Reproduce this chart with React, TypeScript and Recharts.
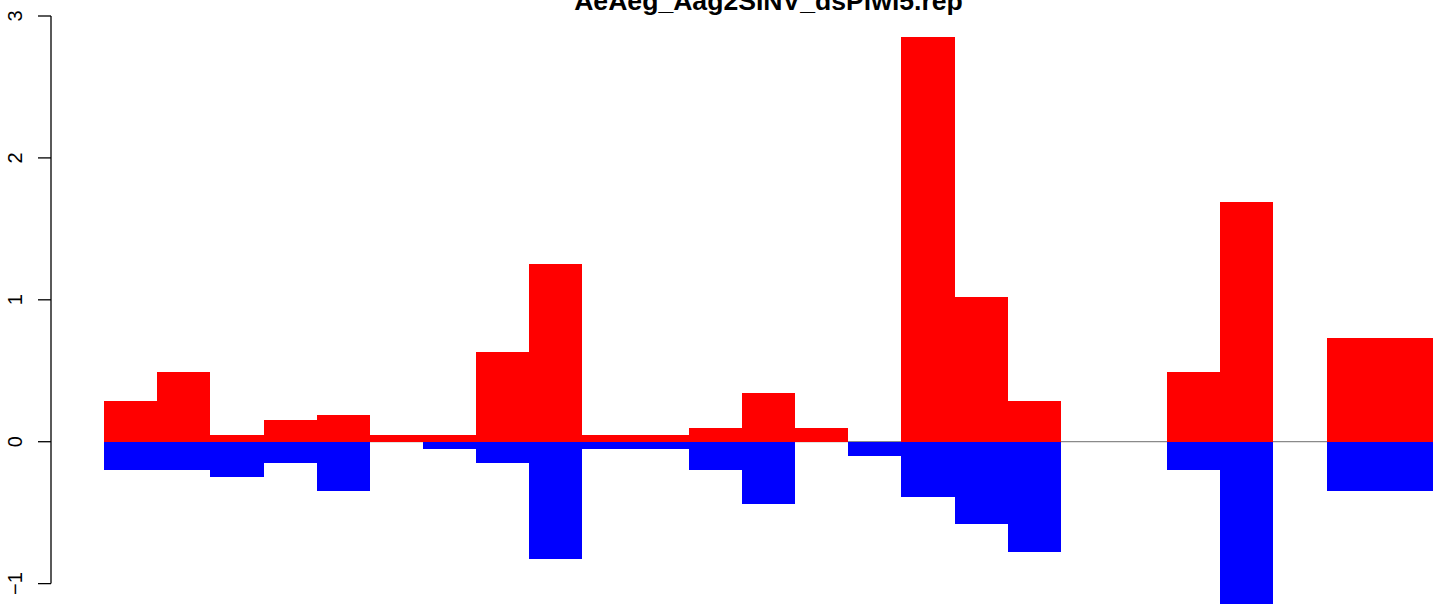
import { Bar, BarChart, ReferenceLine, XAxis, YAxis } from "recharts";

// one bin per bar, left to right
const bins = [
  1, 2, 3, 4, 5, 6, 7, 8, 9, 10, 11, 12, 13, 14, 15, 16, 17, 18, 19, 20, 21, 22,
  23, 24, 25,
];
const sense = [
  0.29, 0.49, 0.05, 0.15, 0.19, 0.05, 0.05, 0.63, 1.25, 0.05, 0.05, 0.1, 0.34,
  0.1, 0, 2.85, 1.02, 0.29, 0, 0, 0.49, 1.69, 0, 0.73, 0.73,
];
const antisense = [
  -0.2, -0.2, -0.25, -0.15, -0.35, 0, -0.05, -0.15, -0.83, -0.05, -0.05, -0.2,
  -0.44, 0, -0.1, -0.39, -0.58, -0.78, 0, 0, -0.2, -1.16, 0, -0.35, -0.35,
];
const yTicks = [-1, 0, 1, 2, 3];
const title = "AeAeg_Aag2SINV_dsPiwi5.rep";

const data = bins.map((b, i) => ({
  pos: b - 0.5,
  sense: sense[i],
  antisense: antisense[i],
}));

const CHART_W = 1490;
const CHART_H = 612;
const AXIS_W = 51;
const RIGHT = 4;
const X_DOMAIN: [number, number] = [-1, 26];
const unit = (CHART_W - AXIS_W - RIGHT) / (X_DOMAIN[1] - X_DOMAIN[0]);
// a hair under the band so recharts doesn't shrink bars to 90%
const barW = unit - 0.01;

const font = "'Liberation Sans', Arial, Helvetica, sans-serif";

function YTick(props: any) {
  const { x, y, payload } = props;
  const v = Number(payload.value);
  const label = v < 0 ? `\u2212${Math.abs(v)}` : String(v);
  return (
    <text
      x={x}
      y={y}
      transform={`rotate(-90, ${x}, ${y})`}
      textAnchor="middle"
      fontSize={20}
      fontFamily={font}
      fill="#000"
    >
      {label}
    </text>
  );
}

export default function App() {
  return (
    <div
      style={{
        position: "absolute",
        left: 0,
        top: 0,
        width: 1444,
        height: 604,
        overflow: "hidden",
        background: "#fff",
      }}
    >
      <style>{`.recharts-rectangle { shape-rendering: crispEdges; }`}</style>
      <BarChart
        width={CHART_W}
        height={CHART_H}
        data={data}
        stackOffset="sign"
        barCategoryGap="0%"
        barGap={0}
        margin={{ top: 16, right: RIGHT, bottom: 0, left: 0 }}
      >
        <XAxis
          dataKey="pos"
          type="number"
          domain={X_DOMAIN}
          allowDataOverflow
          hide
        />
        <YAxis
          type="number"
          domain={[-1.2, 3]}
          ticks={yTicks}
          width={AXIS_W}
          axisLine={false}
          tickSize={13}
          tickMargin={16}
          tickLine={{ stroke: "#000", strokeWidth: 1.3 }}
          tick={<YTick />}
          allowDataOverflow
        />
        <ReferenceLine
          segment={[
            { x: 0, y: 0 },
            { x: 25, y: 0 },
          ]}
          stroke="#8a8a8a"
          strokeWidth={1.3}
          ifOverflow="visible"
          zIndex={0}
        />
        <Bar
          dataKey="sense"
          stackId="s"
          fill="#ff0000"
          barSize={barW}
          isAnimationActive={false}
        />
        <Bar
          dataKey="antisense"
          stackId="s"
          fill="#0000ff"
          barSize={barW}
          isAnimationActive={false}
        />
        <ReferenceLine
          segment={[
            { x: -1, y: -1 },
            { x: -1, y: 3 },
          ]}
          stroke="#000"
          strokeWidth={1.3}
          ifOverflow="visible"
        />
      </BarChart>
      <svg
        width={1444}
        height={30}
        style={{ position: "absolute", left: 0, top: 0 }}
      >
        <text
          x={AXIS_W + ((X_DOMAIN[1] - X_DOMAIN[0]) * unit) / 2}
          y={10}
          textAnchor="middle"
          fontSize={26.6}
          fontWeight="bold"
          fontFamily={font}
          fill="#000"
        >
          {title}
        </text>
      </svg>
    </div>
  );
}
